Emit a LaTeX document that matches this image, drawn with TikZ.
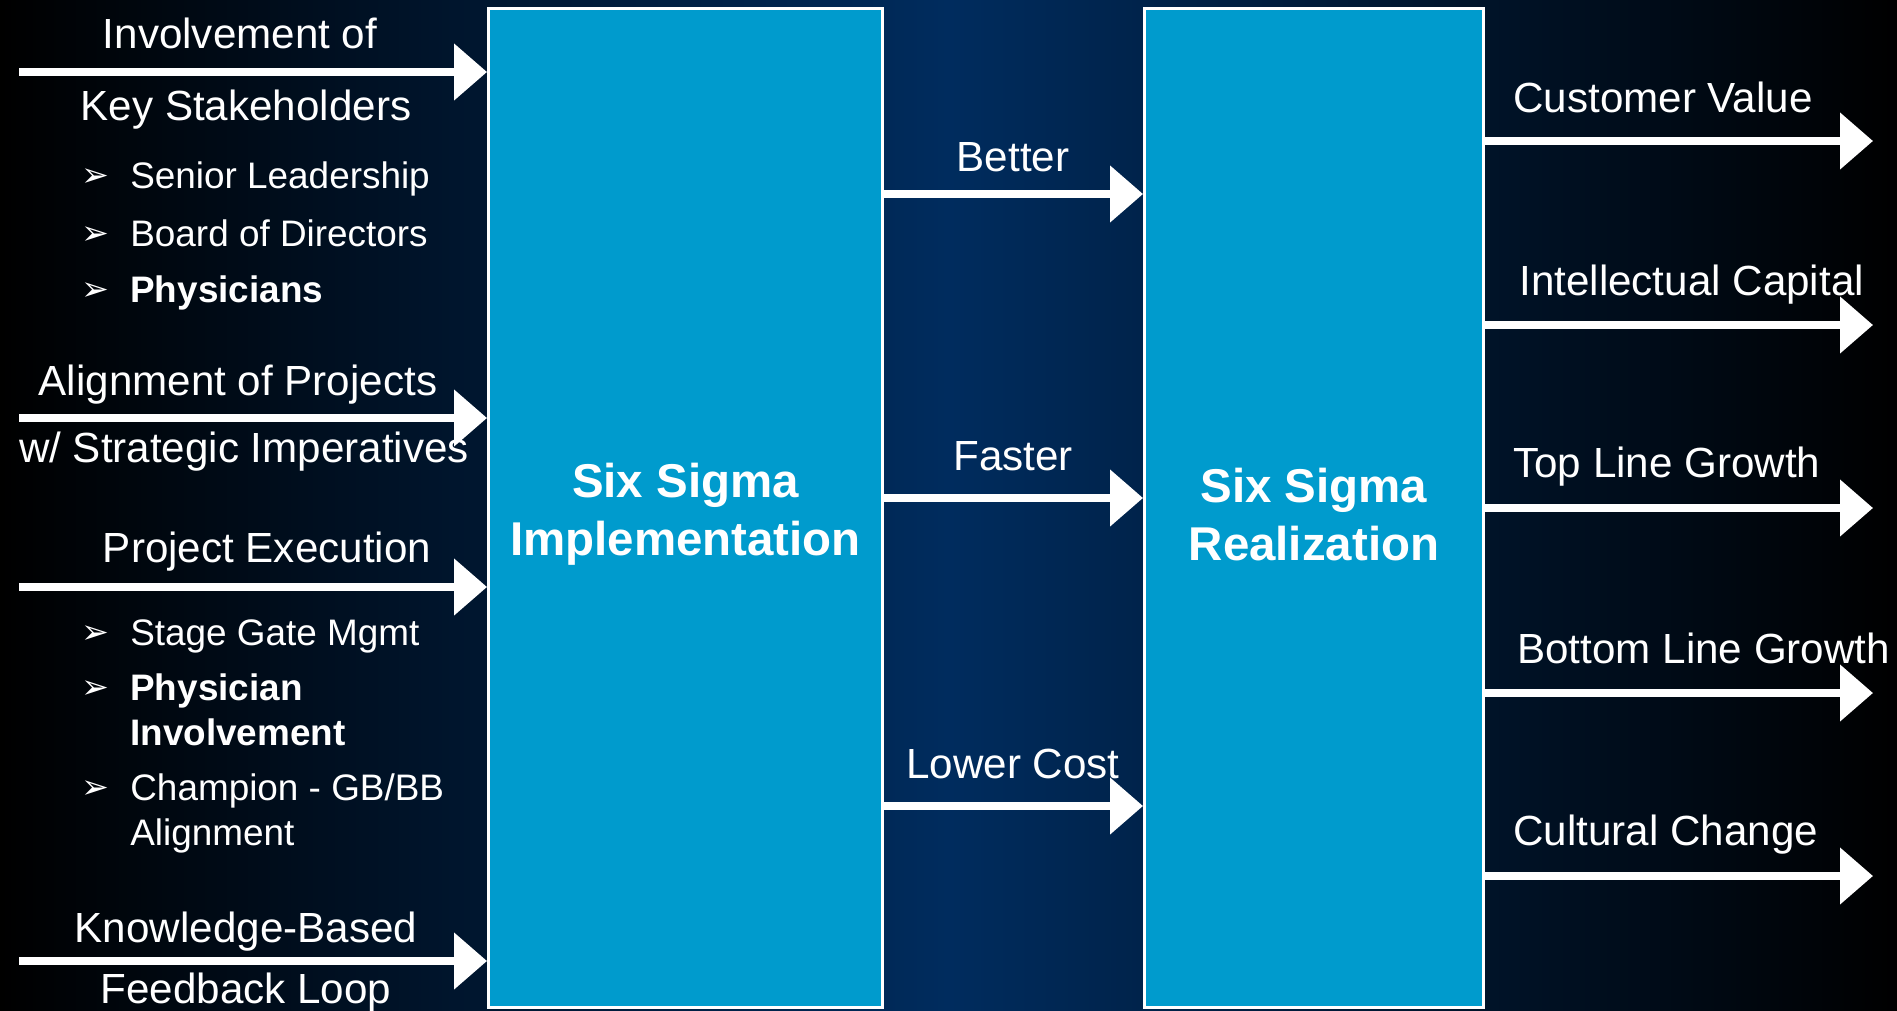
\documentclass[tikz,border=0pt]{standalone}
\usepackage{fontspec}
\setmainfont{Liberation Sans}
\newfontfamily\dingfont{DejaVu Sans}
\usetikzlibrary{arrows.meta}

\definecolor{boxblue}{RGB}{0,155,205}
\definecolor{bgnavy}{RGB}{0,44,94}

\tikzset{
  flow/.style={draw=white, line width=0.16cm, -{Triangle[length=0.66cm, width=1.1cm]}},
  bigbox/.style={draw=white, line width=0.06cm, fill=boxblue, inner sep=0pt, minimum height=20cm},
  boxlabel/.style={text=white, font=\fontsize{27}{33}\selectfont\bfseries, align=center, yshift=-0.13cm},
  lbl/.style={text=white, font=\fontsize{24}{28}\selectfont, inner sep=0pt, anchor=base},
  item/.style={text=white, font=\fontsize{21}{25}\selectfont, inner sep=0pt, anchor=base west},
}
% arrow bullet in front of the list items
\newcommand{\bul}{\llap{\makebox[0.98cm][l]{\raisebox{1pt}{\dingfont\fontsize{19}{19}\selectfont ➢}}}}

\begin{document}
\begin{tikzpicture}[x=0.02cm, y=-0.02cm]
  \useasboundingbox (0,0) rectangle (1897,1011);
  \shade[left color=black, right color=black, middle color=bgnavy] (0,0) rectangle (1897,1011);

  % the two blocks
  \node[bigbox, minimum width=7.88cm] (impl) at (685.5,508) {};
  \node[bigbox, minimum width=6.78cm] (real) at (1314,508) {};
  \node[boxlabel] (impl-label) at (impl.center) {Six Sigma\\Implementation};
  \node[boxlabel] (real-label) at (real.center) {Six Sigma\\Realization};

  % inputs
  \coordinate (in1) at (19,72);
  \coordinate (in2) at (19,418);
  \coordinate (in3) at (19,587);
  \coordinate (in4) at (19,961);
  \foreach \i in {1,...,4}
    \draw[flow] (in\i) -- (in\i -| impl.west);

  \node[lbl] (inv-a) at (240,48) {Involvement of};
  \node[lbl] (inv-b) at (246,120) {Key Stakeholders};
  \node[item] (sh-1) at (130,188) {\bul Senior Leadership};
  \node[item] (sh-2) at (130,246) {\bul Board of Directors};
  \node[item] (sh-3) at (130,302) {\bul\textbf{Physicians}};

  \node[lbl] (align-a) at (238,395) {Alignment of Projects};
  \node[lbl] (align-b) at (244,462) {w/ Strategic Imperatives};

  \node[lbl] (exec) at (267,562) {Project Execution};
  \node[item] (ex-1) at (130,645) {\bul Stage Gate Mgmt};
  \node[item] (ex-2) at (130,700) {\bul\textbf{Physician}};
  \node[item] (ex-2b) at (130,745) {\textbf{Involvement}};
  \node[item] (ex-3) at (130,800) {\bul Champion - GB/BB};
  \node[item] (ex-3b) at (130,845) {Alignment};

  \node[lbl] (fb-a) at (246,942) {Knowledge-Based};
  \node[lbl] (fb-b) at (246,1003) {Feedback Loop};

  % implementation -> realization
  \foreach \y/\b/\txt [count=\i] in {194/171/Better, 498/470/Faster, 806/778/Lower Cost} {
    \coordinate (mid\i) at (1013,\y);
    \draw[flow] (mid\i -| impl.east) -- (mid\i -| real.west);
    \node[lbl] (gain-\i) at (1013,\b) {\txt};
  }

  % results
  \foreach \y/\b/\x/\txt [count=\i] in {141/112/1513/Customer Value,
      325/295/1519/Intellectual Capital, 508/477/1513/Top Line Growth,
      693/663/1517/Bottom Line Growth, 876/845/1513/Cultural Change} {
    \coordinate (out\i) at (1873,\y);
    \draw[flow] (out\i -| real.east) -- (out\i);
    \node[lbl, anchor=base west] (res-\i) at (\x,\b) {\txt};
  }
\end{tikzpicture}
\end{document}
